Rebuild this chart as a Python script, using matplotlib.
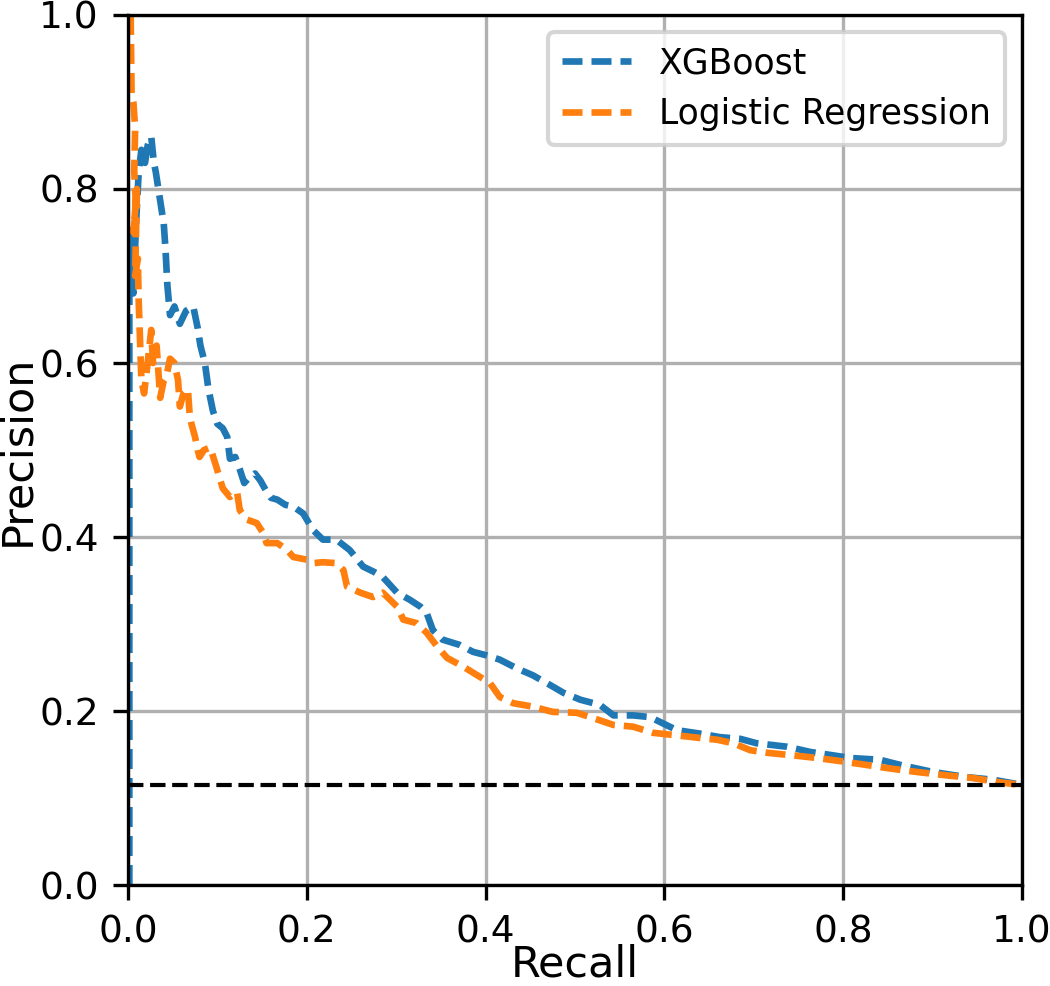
import matplotlib
matplotlib.use("Agg")
import matplotlib.pyplot as plt

# Precision-recall points
recall_xgb = [0.0015, 0.0015, 0.004, 0.006, 0.009, 0.012, 0.015, 0.019, 0.022, 0.026,
              0.029, 0.031, 0.034, 0.037, 0.040, 0.042, 0.044, 0.047, 0.052, 0.058,
              0.065, 0.073, 0.078, 0.081, 0.086, 0.090, 0.095, 0.100, 0.106, 0.111,
              0.114, 0.120, 0.125, 0.130, 0.135, 0.142, 0.148, 0.154, 0.160, 0.167,
              0.176, 0.185, 0.196, 0.207, 0.218, 0.233, 0.248, 0.263, 0.275, 0.285,
              0.301, 0.315, 0.327, 0.334, 0.341, 0.352, 0.371, 0.386, 0.401, 0.416,
              0.435, 0.453, 0.472, 0.487, 0.506, 0.528, 0.543, 0.565, 0.584, 0.598,
              0.614, 0.640, 0.662, 0.685, 0.703, 0.737, 0.763, 0.789, 0.808, 0.841,
              0.864, 0.900, 0.938, 0.968, 1.0]
precision_xgb = [0.0, 0.70, 0.75, 0.68, 0.76, 0.82, 0.845, 0.83, 0.85, 0.86,
                 0.83, 0.82, 0.80, 0.78, 0.76, 0.73, 0.69, 0.655, 0.665, 0.645,
                 0.66, 0.665, 0.64, 0.62, 0.60, 0.57, 0.545, 0.53, 0.525, 0.515,
                 0.49, 0.492, 0.478, 0.462, 0.468, 0.473, 0.465, 0.454, 0.445, 0.443,
                 0.437, 0.435, 0.427, 0.408, 0.397, 0.397, 0.385, 0.366, 0.36, 0.354,
                 0.336, 0.328, 0.32, 0.313, 0.293, 0.282, 0.276, 0.268, 0.264, 0.259,
                 0.249, 0.241, 0.23, 0.221, 0.213, 0.207, 0.195, 0.195, 0.193, 0.186,
                 0.178, 0.174, 0.170, 0.168, 0.163, 0.159, 0.153, 0.149, 0.146, 0.144,
                 0.138, 0.13, 0.124, 0.121, 0.115]

recall_lr = [0.003, 0.004, 0.006, 0.008, 0.007, 0.009, 0.006, 0.010, 0.008, 0.011,
             0.012, 0.013, 0.015, 0.018, 0.022, 0.026, 0.028, 0.032, 0.036, 0.040,
             0.043, 0.047, 0.052, 0.056, 0.058, 0.062, 0.067, 0.069, 0.071, 0.075,
             0.078, 0.080, 0.085, 0.092, 0.099, 0.106, 0.114, 0.122, 0.125, 0.133,
             0.144, 0.151, 0.155, 0.167, 0.178, 0.185, 0.200, 0.207, 0.218, 0.233,
             0.241, 0.245, 0.260, 0.274, 0.285, 0.301, 0.308, 0.323, 0.334, 0.346,
             0.357, 0.375, 0.394, 0.405, 0.416, 0.431, 0.453, 0.475, 0.502, 0.520,
             0.543, 0.565, 0.587, 0.614, 0.640, 0.659, 0.677, 0.696, 0.715, 0.744,
             0.771, 0.800, 0.826, 0.852, 0.882, 0.916, 0.945, 0.975, 1.0]
precision_lr = [1.0, 0.91, 0.90, 0.87, 0.82, 0.78, 0.75, 0.80, 0.70, 0.72,
                0.67, 0.64, 0.58, 0.565, 0.60, 0.638, 0.60, 0.62, 0.56, 0.58,
                0.585, 0.605, 0.60, 0.58, 0.55, 0.565, 0.57, 0.54, 0.53, 0.515,
                0.50, 0.492, 0.50, 0.503, 0.48, 0.456, 0.446, 0.452, 0.431, 0.42,
                0.416, 0.405, 0.393, 0.393, 0.385, 0.377, 0.374, 0.37, 0.371, 0.37,
                0.362, 0.343, 0.336, 0.331, 0.336, 0.32, 0.305, 0.301, 0.29, 0.274,
                0.261, 0.251, 0.239, 0.232, 0.216, 0.209, 0.205, 0.199, 0.198, 0.192,
                0.184, 0.182, 0.175, 0.172, 0.169, 0.167, 0.163, 0.155, 0.152, 0.149,
                0.146, 0.142, 0.138, 0.134, 0.13, 0.126, 0.123, 0.118, 0.115]

baseline = 0.115  # positive class rate (no-skill line)

fig = plt.figure(figsize=(3.5, 3.2867), dpi=300)
ax = fig.add_axes([0.1219, 0.1024, 0.8514, 0.8824])

ax.plot(recall_xgb, precision_xgb, color='#1f77b4', lw=1.6, dashes=(3.0, 1.35), label='XGBoost')
ax.plot(recall_lr, precision_lr, color='#ff7f0e', lw=1.6, dashes=(3.0, 1.35), label='Logistic Regression')
ax.axhline(baseline, linestyle='--', color='black', lw=1)

ax.set_xlim(0, 1)
ax.set_ylim(0, 1)
ax.set_xlabel('Recall', fontsize=10.3, labelpad=-1.5)
ax.set_ylabel('Precision', fontsize=10.3, labelpad=0.3)
ax.tick_params(labelsize=9)
ax.grid(True)
ax.legend(loc='upper right', fontsize=8.3)

fig.savefig('out.png', dpi=300)
